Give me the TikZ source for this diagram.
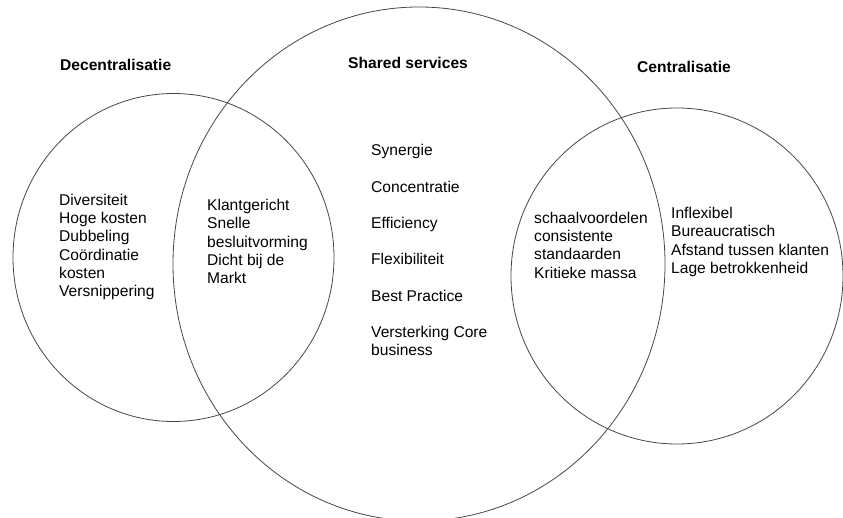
\documentclass[tikz,border=0pt]{standalone}
\usepackage{fontspec}
\setmainfont{Liberation Sans}
\begin{document}
\begin{tikzpicture}[x=1pt,y=-1pt,
  ring/.style={draw=black!72,line width=0.8pt},
  body/.style={font=\fontsize{15.6}{18.25}\selectfont,align=left,inner sep=0pt,text=black},
  title/.style={font=\fontsize{15.6}{18.25}\selectfont\bfseries,inner sep=0pt,anchor=west}]
\useasboundingbox (0,0) rectangle (843,518);
% circles
\draw[ring] (173.5,257.5) ellipse [x radius=160.5pt, y radius=164pt];
\draw[ring] (419,264) ellipse [x radius=246pt, y radius=257pt];
\draw[ring] (677,276) ellipse [x radius=166pt, y radius=168pt];
% titles
\node[title] (tdec) at (60,65) {Decentralisatie};
\node[title] (tshared) at (348,63) {Shared services};
\node[title] (tcen) at (637,67) {Centralisatie};
% left block
\node[body,anchor=west] (dec) at (59,247) {Diversiteit\\Hoge kosten\\Dubbeling\\Co\"ordinatie\\kosten\\Versnippering};
\node[body,anchor=west] (decshared) at (207,241.5) {Klantgericht\\Snelle\\besluitvorming\\Dicht bij de\\Markt};
% middle
\node[body,anchor=base west] (s1) at (371,155.5) {Synergie};
\node[body,anchor=base west] (s2) at (371,192.5) {Concentratie};
\node[body,anchor=base west] (s3) at (371,228.5) {Efficiency};
\node[body,anchor=base west] (s4) at (371,264.5) {Flexibiliteit};
\node[body,anchor=base west] (s5) at (371,301.5) {Best Practice};
\node[body,anchor=west] (s6) at (371,341) {Versterking Core\\business};
% right
\node[body,anchor=west] (sharedcen) at (534,245.2) {schaalvoordelen\\consistente\\standaarden\\Kritieke massa};
\node[body,anchor=west] (cen) at (671,241.9) {Inflexibel\\Bureaucratisch\\Afstand tussen klanten\\Lage betrokkenheid};
\end{tikzpicture}
\end{document}
